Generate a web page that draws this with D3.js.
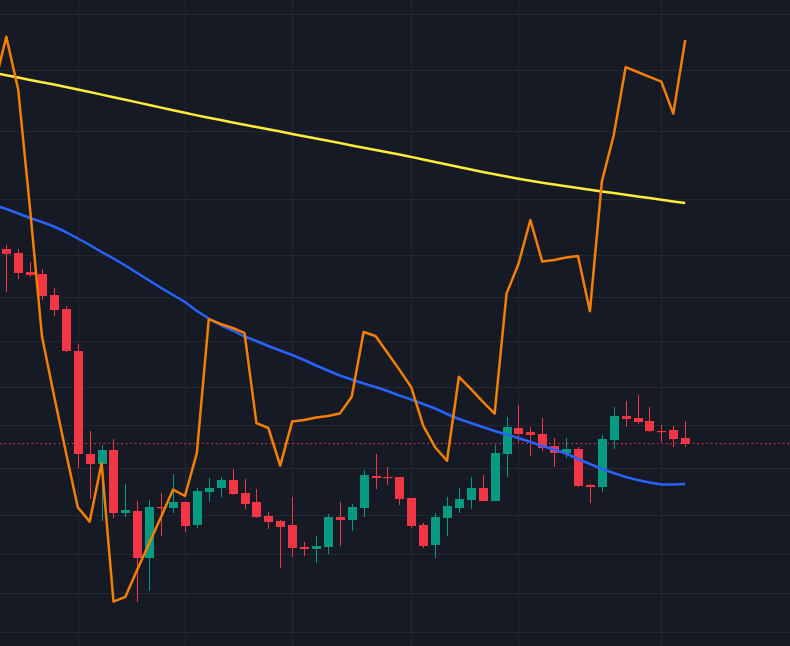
<!DOCTYPE html>
<html>
<head>
<meta charset="utf-8">
<script src="https://cdn.jsdelivr.net/npm/d3@7/dist/d3.min.js"></script>
<style>
  html, body { margin: 0; padding: 0; background: #161a25; }
  svg { display: block; }
</style>
</head>
<body>
<svg id="chart" width="790" height="646"></svg>
<script>
// ---- data (candle index 0..57; line series start at index -1, partly off-screen) ----
const opens  = [45.1,44.7,42.8,42.6,40.5,39.1,34.9,24.6,23.6,25.0,18.7,18.9,14.2,19.3,19.2,19.8,17.5,20.8,21.2,22.0,
                20.7,19.8,18.4,17.9,17.5,15.3,15.1,15.3,18.3,18.0,19.2,22.4,22.3,22.3,20.2,17.5,15.5,18.2,19.2,20.0,
                21.2,19.9,24.6,27.2,26.8,26.6,25.4,24.7,25.1,21.5,21.3,26.0,28.4,28.2,27.9,26.9,27.0,26.2];
const highs  = [45.5,45.1,43.8,43.1,41.2,39.4,35.6,26.9,25.5,26.1,21.6,19.9,20.0,20.7,22.6,19.8,21.2,22.2,22.3,23.1,
                22.1,21.1,18.8,18.0,20.3,15.8,16.4,18.6,19.8,19.6,23.0,24.6,23.3,22.3,20.2,17.7,18.7,20.3,21.2,22.3,
                22.5,25.5,28.3,29.5,27.3,28.2,26.2,26.2,25.3,21.6,26.5,29.3,29.9,30.5,29.3,27.5,27.4,27.9];
const lows   = [40.8,42.1,42.3,40.0,38.4,34.8,23.2,20.1,17.9,18.2,18.3,9.8,10.9,16.4,18.7,16.8,17.2,19.8,20.3,20.5,
                19.1,18.2,17.1,13.2,14.3,14.4,13.7,14.6,15.4,16.9,18.3,21.1,21.5,19.5,17.2,15.2,14.2,16.4,18.7,19.1,
                19.9,19.9,22.3,25.8,24.4,24.9,23.3,24.2,21.3,19.7,20.8,25.1,27.3,27.6,26.8,25.8,25.3,25.3];
const closes = [44.6,42.7,42.5,40.4,39.0,34.9,24.6,23.6,25.0,18.7,19.0,14.2,19.3,19.2,19.8,17.4,20.9,21.2,22.0,20.6,
                19.6,18.3,17.8,17.3,15.2,15.1,15.4,18.3,18.0,19.3,22.5,22.2,22.2,20.1,17.4,15.4,18.3,19.4,20.1,21.2,
                19.9,24.7,27.3,26.6,26.5,25.2,24.7,25.1,21.4,21.3,26.1,28.4,28.1,27.8,26.9,26.8,26.1,25.6];

// moving averages (index -1 .. 57)
const maFast = [49.5,49.1,48.65,48.2,47.8,47.35,46.8,46.15,45.5,44.8,44.15,43.45,42.7,41.95,41.2,40.5,39.8,38.9,38.15,37.5,
                36.95,36.35,35.9,35.4,34.95,34.5,34.0,33.45,32.95,32.45,32.05,31.65,31.3,30.9,30.45,30.05,29.6,29.15,28.6,28.1,
                27.7,27.3,26.9,26.55,26.2,25.8,25.4,25.05,24.65,24.1,23.6,23.1,22.7,22.3,22.0,21.75,21.55,21.55,21.6];
const maSlow = [62.7,62.47,62.24,62.0,61.77,61.54,61.3,61.05,60.8,60.54,60.28,60.02,59.76,59.5,59.24,58.98,58.72,58.46,58.22,57.99,
                57.76,57.53,57.3,57.07,56.84,56.61,56.38,56.15,55.92,55.69,55.46,55.23,55.0,54.77,54.54,54.31,54.05,53.8,53.55,53.3,
                53.05,52.8,52.57,52.35,52.13,51.92,51.73,51.55,51.37,51.2,51.03,50.86,50.7,50.53,50.36,50.19,50.02,49.86,49.7];
// oscillator overlay (own scale, index -1 .. 57)
const osc    = [69.3,75.4,68.8,53.8,37.9,30.6,23.5,16.6,14.8,22.1,4.8,5.4,8.8,12.1,15.4,18.8,18.0,23.4,40.1,39.5,
                39.0,38.4,27.1,26.5,21.8,27.3,27.5,27.8,28.0,28.3,30.4,38.5,38.0,35.9,33.8,31.6,26.8,24.1,22.4,32.9,
                31.4,29.8,28.3,43.3,47.0,52.5,47.3,47.5,47.8,48.0,41.1,57.3,63.1,71.6,71.0,70.4,69.8,65.8,75.0];

const priceGrid = [68.6,62.95,56.9,50.1,44.5,40.3,35.9,31.3,27.5,23.2,18.5,14.6,10.7,6.8];
const timeGrid  = [6,15,24,34,43,55];

const lineStart = -1;

// ---- drawing ----
const W = 790, H = 646;
const svg = d3.select("#chart");
const bg = "#161a25";
svg.append("rect").attr("width", W).attr("height", H).attr("fill", bg);

const x = d3.scaleLinear().domain([0, 57]).range([6.3, 685.2]);
const y = d3.scaleLinear().domain([70, 5.4]).range([0, 646]);
const yOsc = d3.scaleLinear().domain([80, 0]).range([0, 640]);

svg.append("defs").append("clipPath").attr("id", "clip")
  .append("rect").attr("x", 0).attr("y", 0).attr("width", W).attr("height", H);

const g = svg.append("g").attr("clip-path", "url(#clip)");

// grid
g.append("g").selectAll("line").data(priceGrid).join("line")
  .attr("x1", 0).attr("x2", W)
  .attr("y1", d => Math.round(y(d)) + 0.5).attr("y2", d => Math.round(y(d)) + 0.5)
  .attr("stroke", "#242835").attr("stroke-width", 1);
g.append("g").selectAll("line").data(timeGrid).join("line")
  .attr("y1", 0).attr("y2", H)
  .attr("x1", d => Math.round(x(d)) + 0.5).attr("x2", d => Math.round(x(d)) + 0.5)
  .attr("stroke", "#242835").attr("stroke-width", 1);

// last price line
const lastClose = closes[closes.length - 1];
g.append("line")
  .attr("x1", 0).attr("x2", W)
  .attr("y1", Math.round(y(lastClose)) - 0.5).attr("y2", Math.round(y(lastClose)) - 0.5)
  .attr("stroke", "#f23645").attr("stroke-width", 1).attr("stroke-dasharray", "1.5,3");

// candles
const up = "#089981", down = "#f23645";
const candles = opens.map((o, i) => ({ i, o, h: highs[i], l: lows[i], c: closes[i] }));
const bodyW = 9;
const cg = g.append("g").selectAll("g").data(candles).join("g");
cg.append("line")
  .attr("x1", d => Math.round(x(d.i)) + 0.5).attr("x2", d => Math.round(x(d.i)) + 0.5)
  .attr("y1", d => y(d.h)).attr("y2", d => y(d.l))
  .attr("stroke", d => d.c >= d.o ? up : down).attr("stroke-width", 1);
cg.append("rect")
  .attr("x", d => Math.round(x(d.i)) + 0.5 - bodyW / 2)
  .attr("width", bodyW)
  .attr("y", d => y(Math.max(d.o, d.c)))
  .attr("height", d => Math.max(1.2, Math.abs(y(d.o) - y(d.c))))
  .attr("fill", d => d.c >= d.o ? up : down);

// lines
const lineP = d3.line().x((d, k) => x(k + lineStart)).y(d => y(d));
const lineO = d3.line().x((d, k) => x(k + lineStart)).y(d => yOsc(d));

g.append("path").datum(maFast).attr("d", lineP)
  .attr("fill", "none").attr("stroke", "#2962ff").attr("stroke-width", 2.5).attr("stroke-linejoin", "round");
g.append("path").datum(maSlow).attr("d", lineP)
  .attr("fill", "none").attr("stroke", "#ffeb3b").attr("stroke-width", 2.5).attr("stroke-linejoin", "round");
g.append("path").datum(osc).attr("d", lineO)
  .attr("fill", "none").attr("stroke", "#f57f00").attr("stroke-width", 2.5).attr("stroke-linejoin", "round");
</script>
</body>
</html>
